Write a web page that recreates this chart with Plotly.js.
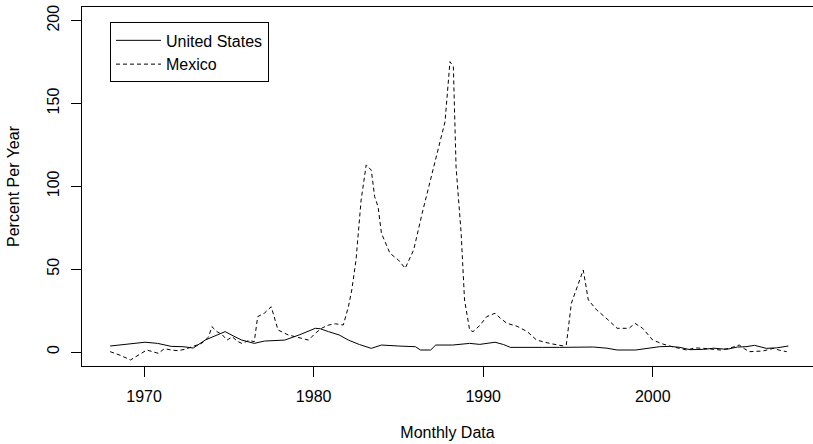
<!DOCTYPE html>
<html>
<head>
<meta charset="utf-8">
<script src="https://cdn.plot.ly/plotly-3.0.1.min.js"></script>
<style>html,body{margin:0;padding:0;background:#fff;}#chart{width:813px;height:444px;}</style>
</head>
<body>
<div id="chart"></div>
<script>
// United States (solid)
var usYears = [1968.0,1968.6,1969.3,1970.06,1970.8,1971.6,1972.3,1972.9,1973.6,1974.2,1974.78,1975.3,1975.76,1976.5,1977.1,1978.3,1979.2,1980.1,1980.4,1980.87,1981.5,1982.05,1982.7,1983.4,1984.0,1985.0,1986.0,1986.3,1986.9,1987.2,1988.2,1989.2,1989.8,1990.7,1991.2,1991.6,1992.5,1993.5,1994.5,1995.5,1996.5,1997.3,1997.9,1999.0,1999.7,2000.4,2001.0,2001.6,2002.2,2003.0,2003.6,2004.35,2005.0,2005.5,2006.0,2006.7,2007.3,2008.0];
var usValues = [3.6,4.2,5.0,5.9,5.2,3.4,3.2,2.4,7.2,10.0,12.3,9.5,7.2,5.2,6.6,7.2,10.5,14.3,14.0,12.3,10.3,7.2,4.5,2.2,4.2,3.6,3.2,1.2,1.2,4.2,4.2,5.2,4.6,5.9,4.5,2.8,3.0,2.8,2.8,2.8,3.0,2.3,1.2,1.2,2.2,3.2,3.4,2.8,1.4,1.6,2.3,1.6,3.0,3.2,4.0,2.2,2.5,3.6];

// Mexico (dashed)
var mxYears = [1968.0,1968.6,1969.2,1969.7,1970.16,1970.84,1971.2,1971.6,1972.0,1972.4,1973.0,1973.4,1973.8,1974.0,1974.3,1974.6,1974.9,1975.2,1975.5,1975.76,1976.2,1976.5,1976.7,1977.1,1977.5,1977.7,1977.9,1978.5,1979.2,1979.7,1980.1,1980.5,1980.9,1981.3,1981.75,1982.05,1982.25,1982.5,1982.8,1983.1,1983.4,1983.6,1983.8,1984.0,1984.5,1985.0,1985.4,1985.9,1986.4,1986.9,1987.26,1987.75,1988.04,1988.24,1988.4,1988.7,1988.9,1989.2,1989.4,1989.8,1990.2,1990.7,1991.0,1991.4,1992.0,1992.6,1993.15,1994.0,1994.7,1994.9,1995.2,1995.9,1996.2,1996.7,1997.3,1997.9,1998.6,1998.95,1999.4,2000.0,2000.6,2001.0,2002.0,2002.5,2003.0,2004.0,2004.6,2005.1,2005.4,2005.7,2006.5,2007.1,2007.5,2007.9];
var mxValues = [0.2,-2.0,-4.8,-1.8,1.2,-0.8,2.0,1.2,0.8,1.6,3.5,5.2,9.0,15.3,12.3,10.5,7.2,9.2,6.5,5.2,7.0,6.2,21.3,23.5,27.3,20.0,13.3,10.3,8.5,7.2,11.3,14.5,16.3,17.0,16.3,27.3,37.4,55.5,91.7,112.9,109.8,93.7,87.7,71.6,59.6,55.5,50.5,61.6,83.7,103.8,119.9,139.0,175.2,172.2,111.8,71.6,31.4,13.3,12.3,16.0,21.3,23.4,20.5,17.3,15.5,12.3,7.2,5.0,3.7,4.2,29.4,49.5,31.4,25.3,20.0,14.3,14.3,17.3,14.3,7.2,4.8,3.6,1.2,2.5,2.2,1.2,2.5,4.2,2.0,0.2,0.6,2.2,1.0,0.2];

var xTicks = [1970, 1980, 1990, 2000];
var yTicks = [0, 50, 100, 150, 200];

var traces = [
  {x: usYears, y: usValues, type: 'scatter', mode: 'lines', name: 'United States',
   line: {color: '#000', width: 1}},
  {x: mxYears, y: mxValues, type: 'scatter', mode: 'lines', name: 'Mexico',
   line: {color: '#000', width: 1, dash: '4px,3px'}}
];

var layout = {
  width: 813, height: 444,
  margin: {l: 82, r: 0, t: 7, b: 78, pad: 0},
  paper_bgcolor: '#fff', plot_bgcolor: '#fff',
  font: {family: 'Liberation Sans, Arial, sans-serif', size: 16, color: '#000'},
  showlegend: true,
  xaxis: {
    range: [1966.34, 2009.45], tickvals: xTicks, ticktext: xTicks.map(String),
    ticks: 'outside', ticklen: 10, tickwidth: 1, tickcolor: '#000',
    showline: true, linecolor: '#000', linewidth: 1, mirror: true,
    showgrid: false, zeroline: false, ticklabelstandoff: 6,
    title: {text: 'Monthly Data', standoff: 22, font: {size: 16}}
  },
  yaxis: {
    range: [-8.45, 208.2], tickvals: yTicks, ticktext: yTicks.map(String), tickangle: -90,
    ticks: 'outside', ticklen: 10, tickwidth: 1, tickcolor: '#000',
    showline: true, linecolor: '#000', linewidth: 1, mirror: false,
    showgrid: false, zeroline: false, ticklabelstandoff: 6,
    title: {text: 'Percent Per Year', standoff: 20, font: {size: 16}}
  },
  legend: {
    x: 0.0383, y: 0.957, xanchor: 'left', yanchor: 'top',
    bordercolor: '#000', borderwidth: 1, bgcolor: '#fff',
    font: {size: 16}, tracegroupgap: 0, itemwidth: 45
  }
};

Plotly.newPlot('chart', traces, layout, {staticPlot: true, displayModeBar: false});
</script>
</body>
</html>
